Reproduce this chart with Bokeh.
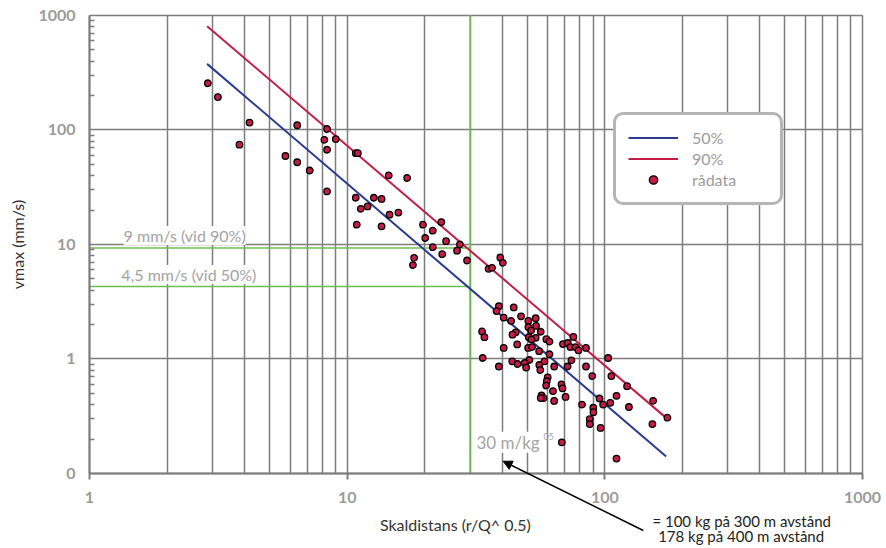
from bokeh.plotting import figure
from bokeh.models import (ColumnDataSource, FixedTicker, CustomJSTickFormatter, Legend,
                          LegendItem, Label, Arrow, NormalHead)
from bokeh.embed import file_html
from bokeh.resources import INLINE

# ---------------- data ----------------
skaldistans = [2.88, 3.15, 3.82, 4.18, 5.76, 6.40, 6.40, 7.16, 8.36, 8.16, 8.36, 8.36, 9.03,
               10.8, 11.0, 14.5, 17.1, 10.8, 11.3, 12.0, 12.7, 13.6, 14.6, 15.8, 10.9, 13.6,
               19.7, 20.1, 21.5, 23.2, 24.2, 21.5, 23.4, 27.4, 26.7, 29.2, 18.2, 18.0, 35.4,
               36.5, 39.3, 40.2,
               38.8, 38.0, 44.3, 40.5, 47.3, 43.3, 50.5, 53.9, 54.1, 50.5, 51.8, 45.1, 43.8,
               56.4, 33.4, 34.1, 50.7, 53.9, 51.9, 59.3, 61.0, 45.7, 40.5, 50.4, 52.2, 55.6,
               61.0, 68.8, 71.8, 75.5, 73.5, 77.0, 79.0, 84.5, 33.6, 43.7, 45.9, 51.0, 48.9,
               49.5, 38.8, 55.7, 56.2, 58.3, 63.6, 74.2, 71.7, 84.5, 89.4, 103, 106, 60.0,
               59.5, 59.2, 67.9, 68.5, 62.9, 56.8, 57.8, 56.4, 70.4, 63.6, 81.6, 95.4, 98.5,
               105, 111, 122, 90.2, 90.3, 87.4, 87.4, 96.3, 124, 154, 153, 175, 68.1, 111]
vmax = [256, 194, 74.4, 116, 59.3, 110, 52.3, 44.3, 102, 82.1, 67.2, 29.1, 83.4,
        62.7, 62.7, 40.1, 38.1, 25.6, 20.5, 21.5, 25.6, 25.0, 18.2, 19.0, 14.9, 14.4,
        14.9, 11.4, 13.2, 15.7, 10.7, 9.47, 8.23, 10.0, 8.83, 7.25, 7.65, 6.61, 6.13,
        6.26, 7.70, 6.92,
        2.89, 2.62, 2.82, 2.30, 2.36, 2.15, 2.15, 2.27, 1.95, 1.90, 1.77, 1.71, 1.63,
        1.73, 1.74, 1.55, 1.55, 1.53, 1.48, 1.49, 1.42, 1.34, 1.25, 1.25, 1.27, 1.17,
        1.10, 1.35, 1.38, 1.56, 1.27, 1.27, 1.19, 1.25, 1.02, 0.955, 0.904, 0.98, 0.923,
        0.843, 0.86, 0.886, 0.80, 0.955, 0.86, 0.974, 0.86, 0.86, 0.71, 1.02, 0.71, 0.692,
        0.639, 0.587, 0.599, 0.555, 0.525, 0.48, 0.456, 0.456, 0.466, 0.43, 0.40, 0.452, 0.40,
        0.414, 0.477, 0.579, 0.375, 0.343, 0.298, 0.27, 0.25, 0.381, 0.431, 0.27, 0.307, 0.187, 0.135]

line_x = [2.86, 173]
line_50 = [378, 0.141]
line_90 = [806, 0.306]

ref_distance = 30        # 30 m/kg^0.5
level_90 = 9.3           # 9 mm/s (vid 90%)
level_50 = 4.3           # 4,5 mm/s (vid 50%)
x_axis = (1, 1000)
y_axis = (0.1, 1000)

x_major = [1, 10, 100, 1000]
y_major = [0.1, 1, 10, 100, 1000]

FONT = "Lato"
GRID = "#7d7d7d"
TICKLBL = "#9b9b9b"
BLUE = "#2b3a8f"
RED = "#c41c45"
GREEN = "#6cbf4f"

x_minor = [m * d for d in (1, 10, 100) for m in range(2, 10)]
y_minor = [m * d for d in (0.1, 1, 10, 100) for m in range(2, 10)]

# The frame covers the whole canvas; both axes sit at fixed data locations so that
# tick labels, titles and the notes below the x axis are not clipped.
p = figure(width=886, height=548, x_axis_type="log", y_axis_type="log",
           x_range=(10 ** -0.34540, 10 ** 3.09314), y_range=(10 ** -1.65502, 10 ** 3.13100),
           min_border_left=0, min_border_right=0, min_border_top=0, min_border_bottom=0,
           toolbar_location=None, output_backend="svg")
p.outline_line_color = None
p.background_fill_color = "white"

p.xaxis.ticker = FixedTicker(ticks=x_major, minor_ticks=x_minor)
p.yaxis.ticker = FixedTicker(ticks=y_major, minor_ticks=y_minor)
p.xaxis.formatter = CustomJSTickFormatter(code="return tick.toFixed(0);")
p.yaxis.formatter = CustomJSTickFormatter(code="return tick < 0.5 ? '0' : tick.toFixed(0);")

for ax in (p.xaxis, p.yaxis):
    ax.axis_line_color = GRID
    ax.axis_line_width = 2
    ax.major_tick_line_color = GRID
    ax.major_tick_line_width = 2
    ax.minor_tick_line_color = GRID
    ax.minor_tick_line_width = 1.5
    ax.major_label_text_font = FONT
    ax.major_label_text_font_style = "bold"
    ax.major_label_text_font_size = "16px"
    ax.major_label_text_color = TICKLBL
    ax.axis_label_text_font = FONT
    ax.axis_label_text_font_style = "normal"
    ax.axis_label_text_font_size = "16px"
    ax.axis_label_text_color = "#333333"

p.xaxis.fixed_location = y_axis[0]
p.xaxis.bounds = x_axis
p.xaxis.major_tick_in = 0
p.xaxis.major_tick_out = 6
p.xaxis.minor_tick_in = 0
p.xaxis.minor_tick_out = 0
p.xaxis.major_label_standoff = 12

p.yaxis.fixed_location = x_axis[0]
p.yaxis.bounds = y_axis
p.yaxis.major_tick_in = 0
p.yaxis.major_tick_out = 0
p.yaxis.minor_tick_in = 5
p.yaxis.minor_tick_out = 0
p.yaxis.major_label_standoff = 14
p.yaxis.axis_label = "vmax (mm/s)"
p.yaxis.axis_label_standoff = 8

p.xgrid.grid_line_color = GRID
p.xgrid.grid_line_width = 1.5
p.xgrid.minor_grid_line_color = GRID
p.xgrid.minor_grid_line_width = 1.5
p.xgrid.cross_bounds = y_axis
p.ygrid.grid_line_color = GRID
p.ygrid.grid_line_width = 1.5
p.ygrid.minor_grid_line_color = None
p.ygrid.cross_bounds = x_axis

# green reference lines
p.segment(x0=[ref_distance], y0=[y_axis[0]], x1=[ref_distance], y1=[y_axis[1]],
          line_color=GREEN, line_width=1.5)
p.segment(x0=[x_axis[0], x_axis[0]], y0=[level_90, level_50],
          x1=[ref_distance, ref_distance], y1=[level_90, level_50],
          line_color=GREEN, line_width=1.5)

r50 = p.line(line_x, line_50, line_color=BLUE, line_width=2)
r90 = p.line(line_x, line_90, line_color=RED, line_width=2)
src = ColumnDataSource(dict(x=skaldistans, y=vmax))
rs = p.scatter("x", "y", source=src, size=6.5, fill_color=RED, line_color="black",
               line_width=1.3)

legend = Legend(items=[LegendItem(label="50%", renderers=[r50]),
                       LegendItem(label="90%", renderers=[r90]),
                       LegendItem(label="rådata", renderers=[rs])],
                location=(613, 343), margin=0, padding=12, spacing=0,
                glyph_width=50, glyph_height=21, label_height=21, label_width=76,
                label_standoff=14)
legend.label_text_font = FONT
legend.label_text_font_size = "16px"
legend.label_text_color = TICKLBL
legend.border_line_color = "#6b6b6b"
legend.border_line_width = 3
legend.border_radius = 10
legend.background_fill_color = "white"
legend.background_fill_alpha = 1
p.add_layout(legend)

lbl_kw = dict(text_font=FONT, text_font_size="16px", text_color="#a3a3a3",
              text_align="center", text_baseline="middle",
              background_fill_color="white")
p.add_layout(Label(x=2.34, y=12.0, text="9 mm/s (vid 90%)", **lbl_kw))
p.add_layout(Label(x=2.43, y=5.47, text="4,5 mm/s (vid 50%)", **lbl_kw))
p.add_layout(Label(x=42.1, y=0.187, text="30 m/kg", **dict(lbl_kw, text_font_size="17px")))
p.add_layout(Label(x=60.5, y=0.21, text="05", text_font=FONT, text_font_size="9px",
                   text_color="#a3a3a3", text_align="center", text_baseline="middle"))

p.add_layout(Arrow(end=NormalHead(size=9, fill_color="black", line_color="black"),
                   x_start=141, y_start=0.0318, x_end=40.3, y_end=0.128,
                   line_color="black", line_width=1.5))

# x axis title
p.add_layout(Label(x=26.3, y=0.0359, text="Skaldistans (r/Q^ 0.5)", text_font=FONT,
                   text_font_size="16px", text_color="#333333", text_align="center",
                   text_baseline="middle"))

note_kw = dict(text_font=FONT, text_font_size="15px", text_color="#222222",
               text_align="left", text_baseline="middle")
p.add_layout(Label(x=153, y=0.0381, text="= 100 kg på 300 m avstånd", **note_kw))
p.add_layout(Label(x=161, y=0.0282, text="178 kg på 400 m avstånd", **note_kw))

open("out.html", "w").write(file_html(p, INLINE))
